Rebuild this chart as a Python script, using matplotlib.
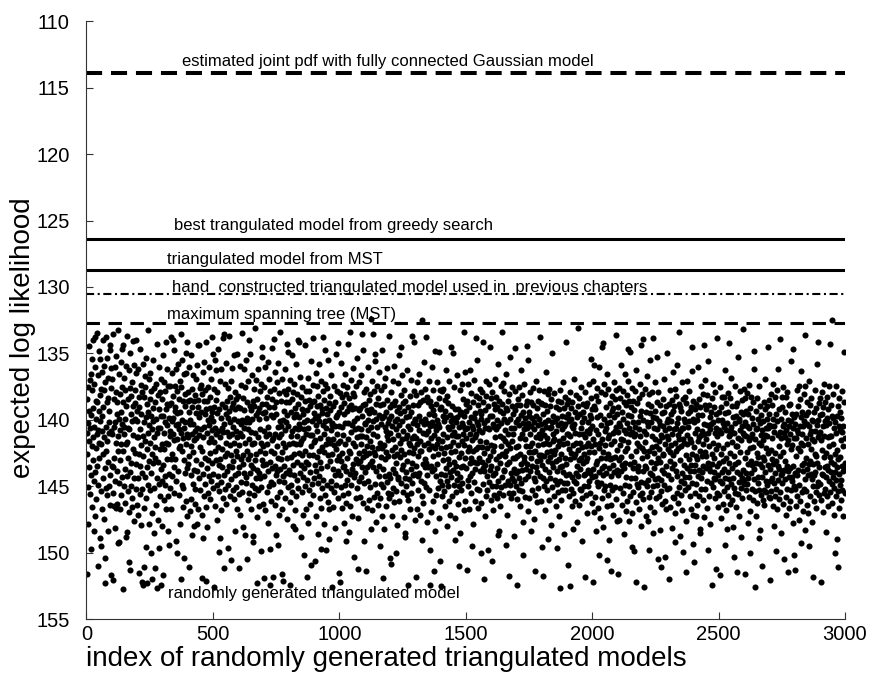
import numpy as np
import matplotlib.pyplot as plt

plt.rcParams['font.family'] = ['Liberation Sans', 'DejaVu Sans']

# expected log likelihood of each random triangulated model, stored compactly:
# loglik = 127.3 + 0.29 * (code + tenth / 10), 100 models per line
ll_codes = """
38 52 47 83 61 44 35 70 41 56 24 49 63 33 45 58 31 77 42 50 36 66 27 54 40 23 48 59 34 72 45 30 57 68 22 43 51 38 64 47 21 55 39 46 81 32 60 26 49 41 53 37 74 44 28 62 35 50 76 42 67 31 46 23 58 40 52 69 36 48 29 56 86 79 34 61 45 22 51 39 63 27 49 54 38 72 33 47 60 44 41 58 25 66 24 35 84 46 30 55
47 33 62 85 56 21 45 66 38 53 30 71 44 59 36 49 27 66 42 57 65 39 52 20 48 75 60 43 75 31 54 46 66 37 28 63 50 41 58 35 44 25 24 52 39 87 47 32 61 45 36 56 43 65 29 50 40 74 72 58 49 22 62 45 38 53 67 31 46 80 57 35 82 26 60 42 55 37 66 44 33 64 51 40 23 47 58 29 70 39 52 43 36 61 23 55 31 48 65 41
44 59 30 68 48 37 83 52 40 63 25 55 46 71 34 50 42 86 36 57 61 29 48 53 86 38 66 44 81 32 49 58 35 76 43 27 64 51 39 86 56 41 20 60 47 33 70 45 54 38 31 62 49 78 42 57 36 85 46 52 67 40 28 55 44 73 35 61 48 50 39 82 53 34 65 43 24 58 87 47 54 37 69 45 30 60 41 77 51 36 46 63 33 56 86 42 71 38 50 59
42 27 55 84 64 47 33 51 60 44 36 58 23 49 41 67 30 53 45 39 63 34 50 72 43 76 57 40 48 61 35 46 54 22 66 39 52 44 31 58 47 23 37 43 56 25 49 62 41 34 53 40 75 30 45 59 36 48 78 42 29 57 44 51 38 63 46 33 70 50 41 21 85 47 35 60 43 52 28 66 48 38 61 45 54 32 79 40 57 37 44 64 31 50 26 56 23 47 68 39
55 36 48 81 41 30 53 45 67 38 43 58 27 50 64 35 47 73 40 52 32 60 44 39 56 71 49 65 37 46 61 42 54 33 48 70 29 57 45 40 38 24 66 43 24 59 47 35 62 50 46 34 55 41 68 37 52 84 74 31 57 48 39 63 45 28 53 42 60 36 41 66 85 23 47 56 38 71 43 54 35 62 45 49 30 58 40 64 52 37 48 43 59 33 22 46 55 41 26 61
44 57 35 87 49 40 52 28 66 45 38 54 47 31 60 42 69 36 50 58 25 46 62 41 55 78 74 48 33 53 59 43 30 67 45 51 39 56 22 64 47 21 58 44 82 40 53 61 34 49 42 65 29 52 46 38 57 43 77 35 60 48 41 55 22 63 44 50 37 59 33 52 80 40 47 56 30 45 62 39 54 27 49 64 43 36 58 72 41 51 46 61 38 53 26 48 66 44 57 40
37 50 63 82 56 29 47 68 40 53 45 34 59 48 21 62 43 55 38 71 52 41 30 57 46 73 35 49 60 44 28 58 43 51 79 39 54 46 33 64 48 23 62 44 57 40 26 52 67 41 55 47 32 60 43 50 38 73 75 56 40 63 49 35 54 20 47 61 42 58 33 52 86 69 38 56 41 48 30 62 57 43 66 40 51 36 59 46 77 34 49 61 39 54 25 27 65 50 42 55
46 58 35 84 41 52 30 67 48 39 55 43 62 37 50 28 57 45 70 40 33 61 47 54 86 77 36 59 51 42 64 38 49 56 25 48 84 43 60 35 52 22 40 66 31 55 47 58 39 73 42 57 34 50 63 45 29 53 76 68 59 36 48 44 56 21 62 47 38 54 45 67 83 52 33 58 43 85 49 36 60 41 55 46 30 64 50 39 57 44 37 53 69 42 24 35 61 45 26 56
50 39 57 86 65 33 48 60 41 53 46 27 62 38 55 49 36 71 43 58 34 52 45 67 40 72 29 50 63 42 59 47 37 54 23 46 61 39 52 44 43 23 50 32 57 45 74 38 49 55 62 40 53 35 48 68 42 58 78 46 56 44 24 61 39 51 47 66 36 54 41 59 84 43 70 33 55 45 62 38 52 36 65 47 40 57 28 50 81 44 47 60 39 53 22 34 63 49 42 58
38 55 43 80 49 31 57 45 68 40 53 46 35 60 42 73 37 51 58 44 29 64 48 54 39 77 66 33 56 42 61 41 50 36 59 45 22 52 70 38 47 25 34 63 44 50 40 77 46 55 42 35 60 48 53 28 65 43 74 39 67 49 41 54 37 61 46 32 59 45 44 52 87 66 40 56 48 62 35 50 58 39 71 45 51 43 26 60 47 36 54 42 64 49 23 57 41 53 45 83
49 36 58 85 61 40 54 29 66 45 52 38 63 47 34 56 42 70 39 55 44 60 31 50 57 75 37 65 41 53 35 59 48 24 62 44 51 40 73 38 57 21 66 52 39 47 33 60 45 56 41 68 36 55 49 30 58 44 79 37 50 46 57 40 64 35 53 48 27 61 43 55 82 69 45 52 41 59 34 47 63 40 54 46 32 58 50 21 56 42 48 65 39 53 25 60 36 51 75 45
44 57 39 83 48 35 53 66 41 50 56 43 30 59 46 38 64 52 42 55 37 61 49 45 17 72 40 54 33 67 50 44 21 56 47 36 63 41 52 28 60 26 53 39 70 43 57 48 34 62 45 51 38 65 42 55 31 58 76 40 64 49 36 53 44 60 25 51 68 43 39 56 84 61 35 50 42 72 45 54 58 33 52 41 66 46 38 59 48 30 53 62 44 49 22 57 43 64 40 79
47 59 36 81 42 63 39 51 45 68 33 56 48 61 40 53 29 65 44 57 50 38 62 46 55 78 71 43 52 41 59 47 34 58 45 64 40 27 53 49 42 24 51 37 60 44 56 32 48 62 55 39 46 69 41 52 36 58 73 74 38 61 48 43 57 30 54 47 63 40 64 45 86 52 49 59 42 67 37 50 46 56 41 62 33 48 55 22 60 44 52 40 58 47 23 36 51 43 69 57
43 55 37 84 48 50 34 66 45 58 40 53 62 46 31 57 42 68 39 51 49 36 59 44 52 74 63 17 47 55 38 65 45 50 28 60 43 56 35 53 61 22 47 54 37 70 44 58 49 39 56 46 33 62 42 51 86 45 77 38 48 67 40 55 44 30 57 50 64 41 53 36 83 47 42 56 25 51 45 72 39 58 46 63 50 34 55 43 61 48 44 52 69 38 26 45 41 59 36 80
51 40 57 87 63 36 49 60 42 54 47 35 62 52 44 58 38 66 41 50 56 43 30 59 48 71 37 53 45 61 39 64 46 55 33 50 42 57 68 44 58 25 52 47 40 63 45 26 56 49 43 60 35 54 46 69 41 51 75 62 55 48 44 59 32 57 43 65 50 40 47 53 81 61 45 36 58 42 73 52 62 41 56 34 49 44 60 47 38 55 45 67 42 50 21 31 53 46 64 39
48 56 41 82 45 38 59 52 34 61 44 50 67 40 55 47 30 58 43 53 36 62 49 45 57 76 70 46 52 39 60 43 54 33 48 64 42 56 37 51 47 22 28 55 44 61 40 50 66 45 53 38 62 46 41 57 35 49 78 43 42 65 50 36 54 47 60 39 23 56 57 44 85 52 68 41 55 46 33 63 49 37 58 43 51 62 45 77 40 54 46 60 34 56 24 42 53 64 38 50
55 42 61 80 36 58 44 52 67 39 50 63 45 33 57 48 41 60 54 37 46 56 40 64 43 73 29 59 45 72 38 53 62 47 55 41 66 35 50 44 61 21 52 39 58 34 48 63 42 56 43 57 36 49 60 46 53 40 76 31 52 44 68 41 55 38 59 47 50 62 37 54 84 60 43 51 27 57 45 64 49 40 58 35 62 47 53 42 56 74 45 59 41 53 25 36 61 44 50 57
40 53 64 86 57 38 50 43 61 35 58 45 52 39 66 48 42 55 31 60 47 56 37 62 44 79 70 41 54 46 53 34 59 48 43 63 40 56 45 50 38 24 46 55 28 58 44 67 52 41 64 42 50 36 57 47 53 39 72 45 49 55 43 62 40 52 35 58 46 69 44 59 83 51 63 42 56 48 33 54 57 40 65 45 50 38 61 43 53 47 36 58 48 54 22 64 45 52 39 76
46 55 39 84 50 42 58 36 61 47 53 44 67 40 56 49 31 59 45 52 41 62 48 54 37 74 43 57 50 35 64 46 53 40 58 45 71 38 51 44 55 26 61 47 42 56 49 63 36 52 48 59 44 51 66 40 54 46 77 60 43 57 50 38 62 45 53 41 68 49 56 36 87 59 44 52 39 64 46 55 42 61 48 34 57 50 45 60 40 73 53 44 62 37 23 58 43 55 47 39
49 60 42 81 47 38 63 51 44 57 36 54 86 48 61 43 52 40 66 45 58 39 50 62 46 72 33 59 44 53 47 64 41 52 37 57 49 60 43 70 55 20 58 40 51 65 38 54 47 61 42 56 49 35 62 46 53 44 75 50 64 41 55 47 39 58 52 43 60 36 48 57 84 63 50 40 54 68 46 53 39 61 44 56 49 34 59 47 52 42 57 46 62 38 27 43 50 65 41 58
45 56 33 86 48 40 67 52 29 58 41 63 50 37 55 46 72 43 59 35 54 47 61 38 66 78 51 30 57 49 42 69 36 53 45 60 24 56 48 64 58 23 52 71 43 55 34 62 46 50 37 61 45 57 40 53 66 31 80 44 52 48 63 35 56 42 75 47 54 39 60 44 83 58 50 65 41 53 37 62 47 55 40 68 43 57 49 33 61 46 53 38 64 45 21 36 51 70 42 56
40 58 47 83 35 54 44 69 50 38 61 45 53 29 57 48 66 41 55 36 49 62 43 56 39 73 46 52 31 60 54 40 67 47 58 37 51 44 64 42 33 25 49 61 45 70 38 55 47 26 63 42 53 40 59 46 35 68 76 44 56 39 62 48 54 41 77 45 58 36 47 65 85 52 30 60 49 56 39 61 55 44 57 38 66 46 50 34 63 42 48 59 41 71 24 53 37 62 51 22
57 43 64 87 52 46 60 35 55 49 41 68 47 56 32 61 44 53 70 39 59 45 51 37 63 77 42 57 28 66 44 54 40 62 47 58 36 50 73 43 61 22 56 45 52 67 41 59 34 48 50 64 43 55 39 60 46 27 79 53 36 58 49 63 44 51 72 40 54 45 62 47 82 59 42 56 48 65 38 52 45 53 60 41 57 33 64 46 50 79 55 40 66 48 26 61 44 58 43 51
48 61 39 85 45 52 66 36 54 42 59 44 50 71 38 56 47 63 31 53 41 64 46 55 40 75 49 35 68 45 57 37 52 62 44 58 29 51 47 65 43 21 48 39 61 46 54 74 40 59 63 41 50 45 57 34 67 48 78 38 46 60 43 55 49 62 37 58 44 70 52 39 83 47 33 56 50 42 61 45 58 44 54 36 63 48 41 57 66 40 49 55 31 60 25 52 43 68 38 76
44 57 50 80 62 47 55 41 68 53 39 60 46 54 43 65 30 58 49 42 56 48 63 38 51 73 72 40 59 47 61 35 53 46 57 42 50 64 37 55 47 24 44 69 40 52 61 33 56 48 53 41 66 45 59 37 54 47 77 28 50 63 39 56 43 57 46 70 41 60 45 52 86 38 55 49 34 61 44 58 57 40 53 64 47 36 59 45 51 82 42 62 48 55 22 66 50 43 58 46
55 41 63 84 35 59 46 52 69 40 47 60 43 57 38 54 65 44 51 37 62 45 56 30 58 76 42 67 53 46 39 61 50 44 72 41 57 36 63 48 54 23 59 47 65 38 52 45 60 33 46 64 40 56 49 58 43 71 79 53 61 47 35 62 44 55 50 40 66 42 50 57 83 39 63 48 54 27 59 44 43 68 52 46 57 36 61 49 41 74 58 45 38 64 20 42 56 47 60 35
47 59 44 83 38 53 48 62 41 57 52 36 60 45 55 70 42 58 49 34 63 46 51 40 67 78 57 37 54 48 43 61 55 47 39 64 50 45 59 30 56 26 62 87 48 54 41 68 46 52 38 65 45 58 43 60 53 35 74 49 61 44 72 40 55 47 63 42 50 56 46 58 81 64 49 53 44 61 39 66 54 41 57 47 33 62 45 59 51 43 60 48 40 55 24 46 52 38 63 45
42 56 64 85 59 37 51 45 62 53 58 40 48 66 43 55 34 60 46 71 45 63 52 38 57 77 61 42 54 36 67 44 55 47 30 59 50 64 41 56 53 22 62 46 58 43 73 48 37 60 40 57 45 65 52 35 56 47 80 44 59 48 41 54 63 46 38 68 50 55 36 61 83 43 57 49 66 40 58 45 64 47 39 56 44 62 51 28 59 42 50 58 46 70 25 55 43 61 48 78
57 44 61 82 53 48 66 42 58 36 46 63 51 40 56 47 69 35 60 45 52 38 64 49 43 75 31 55 47 62 41 67 45 57 50 37 61 44 54 72 59 21 35 62 48 53 42 65 39 56 44 58 50 41 68 45 55 33 76 47 63 40 54 46 57 38 51 70 43 59 48 61 84 55 44 64 49 41 58 52 36 57 46 62 40 53 66 45 29 60 55 43 59 48 23 39 56 47 63 42
46 60 38 86 49 64 42 57 51 36 58 45 67 40 53 47 62 34 56 44 61 39 52 58 45 73 43 55 37 63 48 56 41 66 50 44 59 35 53 47 62 24 57 39 54 48 65 42 60 18 43 58 50 37 61 45 55 68 78 52 57 44 63 47 35 59 51 42 56 74 40 62 81 54 45 66 38 57 46 60 53 41 59 49 64 43 55 36 61 47 45 57 50 68 26 56 39 62 48 54
"""
ll_tenths = """
3817264950 7204918356 1593702846 6048271935 2935816074 8461039257 0572948613 9316057482 4728160395 5180362749
6293047158 1847593620 7306182549 2591740863 8430265917 0765813294 5129487036 3684920751 9052378614 4718036295
2076395841 5931842067 8412607395 3649081572 0857329164 6183954027 9740216538 1265870943 7398041256 0527693418
8150729364 3468105927 6927438015 1804956273 4273061859 9536172840 2081543796 7613289045 5849307162 3971526480
4639812057 9015376842 2580941736 7123685094 6392407518 1847520963 8305796241 0475139682 2716048359 6082351974
1973560428 6240719583 4831506279 9362847150 0519263847 3705981426 6158074392 8926413705 4093752618 7341829056
5402183679 0791358426 9265074813 2648930175 7184526903 5036718942 1479203568 4820597361 6517930284 9283046715
7528940316 2369081754 1047632985 8503167249 3960485127 4215970836 7832615490 5091348672 0684729153 1756093428
0386251794 8153697402 5792813064 4917025638 1628793045 6903452781 3541086927 2379504816 9268135740 8430672519
9645072183 4702856931 3158946720 6084513297 5743128609 2568031974 0926745381 7814269503 1395407862 2607918345
2819345076 5037812649 7690231458 3471869502 8135904627 0982746135 6357019284 4062853719 9743162508 1594726830
6471290835 1928576304 0346729581 9250438716 4607352198 7129583460 2815946073 8593047261 5027386914 3860195247
3052718649 7684039215 8923150674 1736284059 0964127385 5481670932 9140385726 6372918054 2689540137 4019632578
8736401925 0215967438 4571096832 6403725189 2359846071 1860247359 5729410683 3108579246 7354012869 9842361705
1590634872 6843207159 2087345961 5912876340 7028153496 3647920815 8053162749 9481706325 0916273458 5273048196
4267983051 3906148527 9714568203 0385291764 5641370982 8205619347 4396805172 1724935086 6548109723 2059873614
7914528036 5462730918 1350982647 8279043156 3187625409 6034851729 0562398417 2837604591 4183957260 8726140395
0348157692 8179265403 6932704851 4518390627 9702436518 2975048163 7841025936 5609371284 3821496705 1463280957
5683029417 2530694871 4065178329 7041862593 1425903786 9317264805 3258619074 0146782539 8960325174 6908512347
9125476308 6091853724 7248013695 2876359104 8053691247 4693107528 1704826395 3962514087 5039748126 7281935406
3760918254 0826347195 5409682137 6358219470 2917584063 0185472936 8429360715 7403296851 1675043928 4537806129
6208537941 4357190862 1873245096 9042731685 7360928451 5824096173 2051738694 6190847352 8402916537 0954362718
1843062795 9762504318 3591870624 4725916830 0638475219 7240361598 6937245081 2815093746 3069728415 8291475063
8572914063 2138746950 6024359718 1509647283 4196283057 3659702814 0375918642 9548620137 7213584096 5623087491
4096735182 7510982346 9365821407 8137450629 6481027539 1072849365 5694102873 0761395248 4580271936 2817653904
0731469825 3284057619 2658930174 5306284971 9825713640 8613590742 4208637159 7325048691 6914835072 9460128357
7359281046 1945362807 8017436952 3864179025 5042896713 2396714058 9751283640 4687152930 2048369715 6135904782
2614807539 8063725194 4730598261 0298645317 3769051482 6547238109 1385940627 5839216074 9572104683 3706492158
5987362410 4621839075 0389172546 7650328194 1803465927 9218053764 6047815392 8154093726 0365827149 1892740635
9420153876 0375498612 7146203985 2813576049 6239714850 4701692538 3562047918 1490362857 5731648290 4058213769
"""
codes = np.array(ll_codes.split(), dtype=float)
tenths = np.array([int(c) for c in "".join(ll_tenths.split())], dtype=float)
n_models = min(len(codes), len(tenths))
loglik = 127.3 + 0.29 * (codes[:n_models] + tenths[:n_models] / 10)
model_idx = np.arange(1, n_models + 1)

# reference models drawn as horizontal lines
ref_labels = [
    "estimated joint pdf with fully connected Gaussian model",
    "best trangulated model from greedy search",
    "triangulated model from MST",
    "hand  constructed triangulated model used in  previous chapters",
    "maximum spanning tree (MST)",
]
ref_ll = [113.9, 126.4, 128.7, 130.5, 132.7]
scatter_label = "randomly generated triangulated model"

x_ticks = [0, 500, 1000, 1500, 2000, 2500, 3000]
y_ticks = [110, 115, 120, 125, 130, 135, 140, 145, 150, 155]

# line look and label placement (x index, baseline value)
ref_styles = [
    dict(lw=2.9, dashes=(4.0, 2.2)),
    dict(lw=2.2, ls='-'),
    dict(lw=2.2, ls='-'),
    dict(lw=1.5, dashes=(3.9, 1.7, 1.0, 1.7)),
    dict(lw=2.2, dashes=(4.4, 2.8)),
]
label_pos = [(377, 113.4), (346, 125.7), (320, 128.3), (337, 130.35), (320, 132.45)]

fig = plt.figure(figsize=(8.69, 6.73), dpi=100)
ax = fig.add_axes([0.0995, 0.0802, 0.8729, 0.8882])

ax.plot(model_idx, loglik, 'o', ms=4.4, color='black', mec='none')

for val, style in zip(ref_ll, ref_styles):
    ax.axhline(val, color='black', **style)

for txt, (lx, ly) in zip(ref_labels, label_pos):
    ax.text(lx, ly, txt, fontsize=12, va='baseline', ha='left')
ax.text(321, 153.4, scatter_label, fontsize=12, va='baseline', ha='left')

ax.set_xlim(0, 3000)
ax.set_ylim(155, 110)
ax.set_xticks(x_ticks)
ax.set_yticks(y_ticks)

for side in ['top', 'right']:
    ax.spines[side].set_visible(False)
for side in ['left', 'bottom']:
    ax.spines[side].set_linewidth(0.8)
    ax.spines[side].set_color('#333333')

ax.tick_params(direction='in', length=5, width=0.8, color='#333333',
               labelsize=14.5)
ax.tick_params(axis='y', pad=12)
ax.tick_params(axis='x', pad=4)

ax.set_xlabel("index of randomly generated triangulated models",
              fontsize=20, ha='left', va='baseline')
ax.xaxis.set_label_coords(0.0, -0.0785)
ax.set_ylabel("expected log likelihood", fontsize=20, va='baseline')
ax.yaxis.set_label_coords(-0.075, 0.47)

fig.savefig("out.png", dpi=100)
